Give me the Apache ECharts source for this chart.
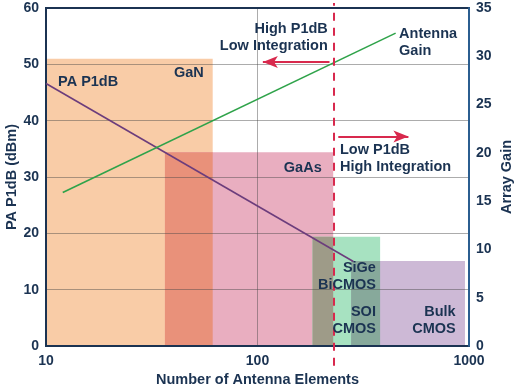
<!DOCTYPE html>
<html>
<head>
<meta charset="utf-8">
<script src="https://cdn.jsdelivr.net/npm/echarts@6/dist/echarts.min.js"></script>
<style>html,body{margin:0;padding:0;background:#fff}#c{width:516px;height:389px}</style>
</head>
<body>
<div id="c"></div>
<script>
// ---- data ----
const techNames = ['GaN', 'GaAs', 'SiGe BiCMOS', 'Bulk CMOS'];
const techStart = [10, 36.5, 182, 277];      // number of antenna elements
const techEnd   = [61.4, 228, 380, 957];
const techTop   = [51.0, 34.4, 19.4, 15.1];  // PA P1dB (dBm)

const paX = [10, 284];
const paY = [46.6, 15.0];                     // PA P1dB (dBm)
const gainX = [12, 450];
const gainY = [15.9, 32.4];                   // Array gain

const boundaryX = 230;                        // dashed divider
const boundaryY = [-3.5, 60.9];

const arrowLeft  = [[219, 50.4], [106, 50.4]];
const arrowRight = [[241, 37.2], [517, 37.2]];

const yLeftTicks = [0, 10, 20, 30, 40, 50, 60];
const yRightTicks = [0, 5, 10, 15, 20, 25, 30, 35];
const xTicks = [10, 100, 1000];

const annotations = [
  [215, 54.7, 'High P1dB\nLow Integration', 'right'],
  [467, 53.8, 'Antenna\nGain', 'left'],
  [11.4, 46.9, 'PA P1dB', 'left'],
  [47.4, 48.5, 'GaN', 'center'],
  [163.7, 31.6, 'GaAs', 'center'],
  [245.5, 33.3, 'Low P1dB\nHigh Integration', 'left'],
  [363, 12.25, 'SiGe\nBiCMOS', 'right'],
  [363, 4.44, 'SOI\nCMOS', 'right'],
  [865, 4.44, 'Bulk\nCMOS', 'right']
];

// ---- styles ----
const techColors = ['#f9cca7', '#e9aec0', '#a7e2c1', '#cdb9d6'];
const overlapColors = {'0-1': '#e9917a', '1-2': '#9e9b88', '2-3': '#87a99b'};
const navy = '#1b3352';
const FONT = 'Liberation Sans, Arial, sans-serif';

// rectangles + computed overlaps
const rects = [];
for (let i = 0; i < techNames.length; i++) {
  rects.push({value: [techStart[i], techEnd[i], techTop[i]], itemStyle: {color: techColors[i]}});
}
for (let i = 0; i < techNames.length; i++) {
  for (let j = i + 1; j < techNames.length; j++) {
    const a = Math.max(techStart[i], techStart[j]);
    const b = Math.min(techEnd[i], techEnd[j]);
    if (b > a && overlapColors[i + '-' + j]) {
      rects.push({value: [a, b, Math.min(techTop[i], techTop[j])], itemStyle: {color: overlapColors[i + '-' + j]}});
    }
  }
}

function renderRect(params, api) {
  const p0 = api.coord([api.value(0), api.value(2)]);
  const p1 = api.coord([api.value(1), 0]);
  return {
    type: 'rect',
    shape: {x: p0[0], y: p0[1], width: p1[0] - p0[0], height: p1[1] - p0[1]},
    style: {fill: api.visual('color')}
  };
}

const chart = echarts.init(document.getElementById('c'), null, {renderer: 'canvas'});
const labelStyle = {color: navy, fontFamily: FONT, fontWeight: 'bold', fontSize: 14};

chart.setOption({
  animation: false,
  backgroundColor: '#fff',
  grid: {left: 46, right: 47, top: 8, bottom: 43, containLabel: false, outerBoundsMode: 'none',
         show: true, borderColor: navy, borderWidth: 2, z: 5},
  xAxis: {
    type: 'log', logBase: 10, min: xTicks[0], max: xTicks[xTicks.length - 1],
    name: 'Number of Antenna Elements', nameLocation: 'middle', nameGap: 26, nameMoveOverlap: false,
    nameTextStyle: {color: navy, fontFamily: FONT, fontWeight: 'bold', fontSize: 14.5},
    axisLine: {show: true, lineStyle: {color: navy, width: 2}},
    axisTick: {show: false},
    axisLabel: Object.assign({margin: 8, formatter: v => String(Math.round(v))}, labelStyle),
    splitLine: {show: true, lineStyle: {color: 'rgba(70,70,70,0.45)', width: 1}},
    z: 3
  },
  yAxis: [{
    type: 'value', min: 0, max: 60, interval: 10,
    name: 'PA P1dB (dBm)', nameLocation: 'middle', nameGap: 27, nameMoveOverlap: false,
    nameTextStyle: {color: navy, fontFamily: FONT, fontWeight: 'bold', fontSize: 14.5},
    axisLine: {show: true, lineStyle: {color: navy, width: 2}},
    axisTick: {show: false},
    axisLabel: Object.assign({margin: 7}, labelStyle),
    splitLine: {show: true, lineStyle: {color: 'rgba(70,70,70,0.45)', width: 1}},
    z: 3
  }, {
    type: 'value', min: 0, max: 35, interval: 5,
    name: 'Array Gain', nameLocation: 'middle', nameGap: 30, nameMoveOverlap: false,
    nameTextStyle: {color: navy, fontFamily: FONT, fontWeight: 'bold', fontSize: 14.5},
    axisLine: {show: true, lineStyle: {color: '#2b5e90', width: 2}},
    axisTick: {show: false},
    axisLabel: Object.assign({margin: 7}, labelStyle),
    splitLine: {show: false},
    z: 6
  }],
  series: [{
    type: 'custom', renderItem: renderRect, xAxisIndex: 0, yAxisIndex: 0,
    encode: {x: [0, 1], y: 2}, data: rects, z: 1, silent: true
  }, {
    type: 'line', name: 'PA P1dB', yAxisIndex: 0, symbol: 'none', z: 7,
    data: paX.map((x, i) => [x, paY[i]]),
    lineStyle: {color: '#6c3d7c', width: 1.6}
  }, {
    type: 'line', name: 'Antenna Gain', yAxisIndex: 1, symbol: 'none', z: 7,
    data: gainX.map((x, i) => [x, gainY[i]]),
    lineStyle: {color: '#2fa34a', width: 1.6}
  }, {
    type: 'line', name: 'boundary', yAxisIndex: 0, symbol: 'none', z: 8, clip: false,
    data: boundaryY.map(y => [boundaryX, y]),
    lineStyle: {color: '#d8294d', width: 2, type: [8, 7]},
    markLine: {
      silent: true, symbol: ['none', 'arrow'], symbolSize: [9, 15],
      label: {show: false},
      lineStyle: {color: '#d8294d', width: 2, type: 'solid'},
      data: [
        [{coord: arrowLeft[0]}, {coord: arrowLeft[1]}],
        [{coord: arrowRight[0]}, {coord: arrowRight[1]}]
      ]
    }
  }, {
    type: 'scatter', yAxisIndex: 0, symbolSize: 0, z: 9, silent: true,
    itemStyle: {opacity: 1},
    data: annotations.map(a => ({
      value: [a[0], a[1]],
      label: {show: true, position: [0, 0], formatter: a[2], align: a[3], verticalAlign: 'middle',
               color: navy, opacity: 1, fontFamily: FONT, fontWeight: 'bold', fontSize: 14.5, lineHeight: 17}
    }))
  }]
});
</script>
</body>
</html>
